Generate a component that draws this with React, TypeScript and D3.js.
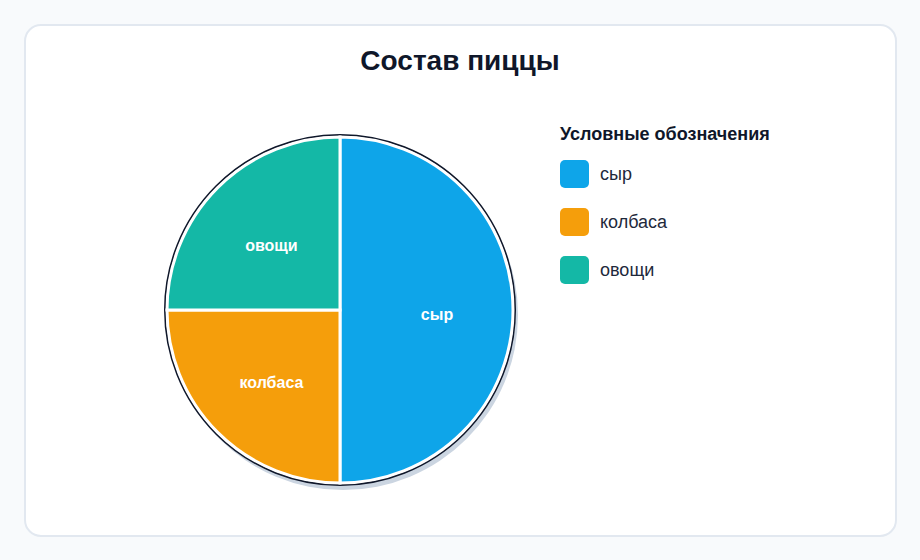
import React from "react";
import * as d3 from "d3";

const categories = ["сыр", "колбаса", "овощи"];
const values = [50, 25, 25];
const colors = ["#0ea5e9", "#f59e0b", "#14b8a6"];
const title = "Состав пиццы";
const legendTitle = "Условные обозначения";

export default function App() {
  const W = 920, H = 560;
  const cx = 340, cy = 310, R = 173;
  const data = categories.map((c, i) => ({ c, v: values[i], color: colors[i] }));
  const pie = d3.pie<any>().value((d) => d.v).sort(null);
  const arcs = pie(data);
  const arc = d3.arc<any>().innerRadius(0).outerRadius(R);
  const labelArc = d3.arc<any>().innerRadius(97).outerRadius(97);
  const font = "'Liberation Sans', Arial, Helvetica, sans-serif";
  return (
    <svg width={W} height={H} style={{ position: "absolute", left: 0, top: 0, fontFamily: font }}>
      <rect x={0} y={0} width={W} height={H} fill="#f8fafc" />
      <rect x={25} y={25} width={871} height={511} rx={16} fill="#ffffff" stroke="#e2e8f0" strokeWidth={2} />
      <text x={460} y={70} textAnchor="middle" fontSize={28} fontWeight={700} fill="#0f172a">{title}</text>
      <circle cx={cx + 3} cy={cy + 5} r={R + 2} fill="#cbd5e1" />
      <circle cx={cx} cy={cy} r={R + 2} fill="#ffffff" stroke="#0f172a" strokeWidth={2} />
      <g transform={`translate(${cx},${cy})`}>
        {arcs.map((a, i) => (
          <path key={i} d={arc(a) as string} fill={a.data.color} stroke="#ffffff" strokeWidth={3} />
        ))}
        {arcs.map((a, i) => {
          const [x, y] = labelArc.centroid(a);
          return (
            <text key={"l" + i} x={x} y={y + 4} textAnchor="middle" dominantBaseline="central" fontSize={16} fontWeight={700} fill="#ffffff">
              {a.data.c}
            </text>
          );
        })}
      </g>
      <text x={560} y={140} fontSize={18} fontWeight={700} fill="#0f172a">{legendTitle}</text>
      {data.map((d, i) => (
        <g key={i} transform={`translate(560,${160 + i * 48})`}>
          <rect x={0} y={0} width={29} height={28} rx={5} fill={d.color} />
          <text x={40} y={14} dominantBaseline="central" fontSize={18} fill="#1e293b">{d.c}</text>
        </g>
      ))}
    </svg>
  );
}
